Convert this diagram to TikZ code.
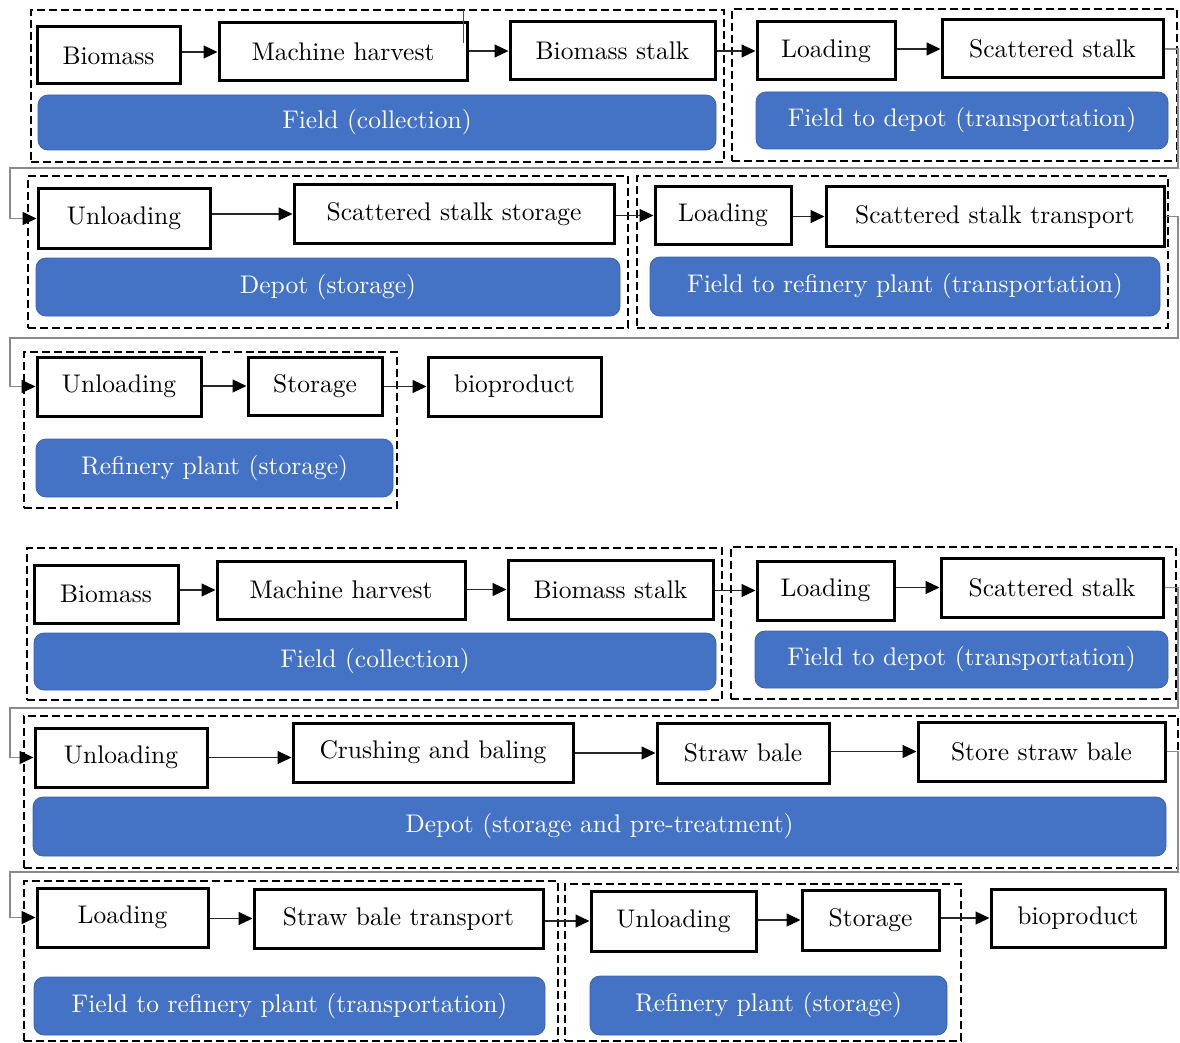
\documentclass[tikz,border=0pt]{standalone}
\usepackage{fontspec}
\setmainfont{lmroman10-regular.otf}
\usetikzlibrary{arrows.meta}
\definecolor{stageblue}{HTML}{4472C4}
\definecolor{stageedge}{HTML}{3A63B0}
\definecolor{wiregray}{HTML}{8A8A8A}
\begin{document}
\begin{tikzpicture}[x=1pt,y=-1pt,
  txt/.style={font=\fontsize{25.5}{29}\selectfont},
  proc/.style={txt,draw=black,line width=3pt,fill=white,inner sep=0pt},
  stage/.style={txt,text=white,fill=stageblue,draw=stageedge,line width=0.8pt,rounded corners=10pt,inner sep=0pt},
  grp/.style={draw=black,line width=2.7pt,dash pattern=on 8pt off 4pt,inner sep=0pt},
  flow/.style={draw=black!85,line width=1.1pt,-{Triangle[length=14pt,width=13pt,color=black]}},
  wrapline/.style={draw=wiregray,line width=1.6pt,-{Triangle[length=14pt,width=13pt,color=black]}},
  stray/.style={draw=black!70,line width=0.9pt}]
\useasboundingbox (0,0) rectangle (1180,1043);

% ---------------- first chain: loose stalk route ----------------
% dashed stage frames
\node[grp,minimum width=693pt,minimum height=152pt] (g1) at (377.5,86) {};
\node[grp,minimum width=445pt,minimum height=152pt] (g2) at (954.5,85) {};
\node[grp,minimum width=600pt,minimum height=152pt] (g3) at (328,252) {};
\node[grp,minimum width=531pt,minimum height=152pt] (g4) at (902.5,252) {};
\node[grp,minimum width=373pt,minimum height=156pt] (g5) at (210.5,430) {};

% field (collection)
\node[proc,minimum width=143pt,minimum height=57pt] (b1) at (108.5,55.5) {Biomass};
\node[proc,minimum width=248pt,minimum height=58pt] (mh1) at (343,52) {Machine harvest};
\node[proc,minimum width=205pt,minimum height=58pt] (bs1) at (612.5,51) {Biomass stalk};
\node[stage,minimum width=678pt,minimum height=55pt] (fc1) at (377,122.5) {Field (collection)};

% field to depot
\node[proc,minimum width=138pt,minimum height=58pt] (ld1) at (826,51) {Loading};
\node[proc,minimum width=221pt,minimum height=58pt] (ss1) at (1052.5,49) {Scattered stalk};
\node[stage,minimum width=412pt,minimum height=57pt] (fd1) at (962,120.5) {Field to depot (transportation)};

% depot (storage)
\node[proc,minimum width=172pt,minimum height=59pt] (ul1) at (124,218.5) {Unloading};
\node[proc,minimum width=320pt,minimum height=58pt] (sss) at (454,214) {Scattered stalk storage};
\node[stage,minimum width=584pt,minimum height=58pt] (dp1) at (328,287) {Depot (storage)};

% field to refinery plant
\node[proc,minimum width=136pt,minimum height=57pt] (ld2) at (723,215.5) {Loading};
\node[proc,minimum width=338pt,minimum height=59pt] (sst) at (995,216.5) {Scattered stalk transport};
\node[stage,minimum width=510pt,minimum height=59pt] (fr1) at (905,286.5) {Field to refinery plant (transportation)};

% refinery plant (storage)
\node[proc,minimum width=164pt,minimum height=59pt] (ul2) at (119,386.5) {Unloading};
\node[proc,minimum width=134pt,minimum height=58pt] (st1) at (315,386) {Storage};
\node[stage,minimum width=357pt,minimum height=58pt] (rp1) at (214.5,468) {Refinery plant (storage)};
\node[proc,minimum width=173pt,minimum height=59pt] (bp1) at (514.5,386.5) {bioproduct};

% flow within and between stages
\draw[flow] (b1.east |- mh1.west) -- (mh1.west);
\draw[flow] (mh1.east |- bs1.west) -- (bs1.west);
\draw[flow] (bs1.east |- ld1.west) -- (ld1.west);
\draw[flow] (ld1.east |- ss1.west) -- (ss1.west);
\draw[flow] (ul1.east |- sss.west) -- (sss.west);
\draw[flow] (sss.east |- ld2.west) -- (ld2.west);
\draw[flow] (ld2.east |- sst.west) -- (sst.west);
\draw[flow] (ul2.east |- st1.west) -- (st1.west);
\draw[flow] (st1.east |- bp1.west) -- (bp1.west);

% return lines to the next row
\coordinate (r1) at (1178,168);
\coordinate (l1) at (10,168);
\draw[wrapline] (ss1.east) -| (r1) -- (l1) |- (ul1.west);
\coordinate (r2) at (1178,338);
\coordinate (l2) at (10,338);
\draw[wrapline] (sst.east) -| (r2) -- (l2) |- (ul2.west);

% short rule above the harvest box
\coordinate (s1) at (463,10);
\coordinate (s2) at (463,43);
\draw[stray] (s1) -- (s2);

% ---------------- second chain: straw bale route ----------------
\node[grp,minimum width=695pt,minimum height=152pt] (g6) at (374.5,624) {};
\node[grp,minimum width=445pt,minimum height=152pt] (g7) at (953.5,623) {};
\node[grp,minimum width=1154pt,minimum height=152pt] (g8) at (601,792) {};
\node[grp,minimum width=534pt,minimum height=160pt] (g9) at (291,961) {};
\node[grp,minimum width=396pt,minimum height=157pt] (g10) at (763,962.5) {};

% field (collection)
\node[proc,minimum width=144pt,minimum height=58pt] (b2) at (106,594) {Biomass};
\node[proc,minimum width=248pt,minimum height=58pt] (mh2) at (341,590) {Machine harvest};
\node[proc,minimum width=205pt,minimum height=59pt] (bs2) at (610.5,589.5) {Biomass stalk};
\node[stage,minimum width=682pt,minimum height=57pt] (fc2) at (375,661.5) {Field (collection)};

% field to depot
\node[proc,minimum width=137pt,minimum height=59pt] (ld3) at (825.5,590.5) {Loading};
\node[proc,minimum width=222pt,minimum height=59pt] (ss2) at (1052,587.5) {Scattered stalk};
\node[stage,minimum width=413pt,minimum height=57pt] (fd2) at (961.5,659.5) {Field to depot (transportation)};

% depot (storage and pre-treatment)
\node[proc,minimum width=172pt,minimum height=59pt] (ul3) at (121,757.5) {Unloading};
\node[proc,minimum width=280pt,minimum height=59pt] (cb) at (433,752.5) {Crushing and baling};
\node[proc,minimum width=172pt,minimum height=60pt] (sb) at (743,753) {Straw bale};
\node[proc,minimum width=247pt,minimum height=59pt] (ssb) at (1041.5,751.5) {Store straw bale};
\node[stage,minimum width=1133pt,minimum height=59pt] (dp2) at (599.5,826.5) {Depot (storage and pre-treatment)};

% field to refinery plant
\node[proc,minimum width=171pt,minimum height=59pt] (ld4) at (122.5,917.5) {Loading};
\node[proc,minimum width=289pt,minimum height=59pt] (sbt) at (398.5,918.5) {Straw bale transport};
\node[stage,minimum width=511pt,minimum height=58pt] (fr2) at (289.5,1006) {Field to refinery plant (transportation)};

% refinery plant (storage)
\node[proc,minimum width=165pt,minimum height=60pt] (ul4) at (673.5,921) {Unloading};
\node[proc,minimum width=137pt,minimum height=60pt] (st2) at (870.5,920) {Storage};
\node[stage,minimum width=357pt,minimum height=59pt] (rp2) at (768.5,1005.5) {Refinery plant (storage)};
\node[proc,minimum width=174pt,minimum height=58pt] (bp2) at (1078,918) {bioproduct};

% flow within and between stages
\draw[flow] (b2.east |- mh2.west) -- (mh2.west);
\draw[flow] (mh2.east |- bs2.west) -- (bs2.west);
\draw[flow] (bs2.east |- ld3.west) -- (ld3.west);
\draw[flow] (ld3.east |- ss2.west) -- (ss2.west);
\draw[flow] (ul3.east) -- (cb.west |- ul3.east);
\draw[flow] (cb.east |- sb.west) -- (sb.west);
\draw[flow] (sb.east |- ssb.west) -- (ssb.west);
\draw[flow] (ld4.east |- sbt.west) -- (sbt.west);
\draw[flow] (sbt.east |- ul4.west) -- (ul4.west);
\draw[flow] (ul4.east |- st2.west) -- (st2.west);
\draw[flow] (st2.east |- bp2.west) -- (bp2.west);

% return lines to the next row
\coordinate (r3) at (1178,708);
\coordinate (l3) at (10,708);
\draw[wrapline] (ss2.east) -| (r3) -- (l3) |- (ul3.west);
\coordinate (r4) at (1178,872);
\coordinate (l4) at (10,872);
\draw[wrapline] (ssb.east) -| (r4) -- (l4) |- (ld4.west);
\end{tikzpicture}
\end{document}
